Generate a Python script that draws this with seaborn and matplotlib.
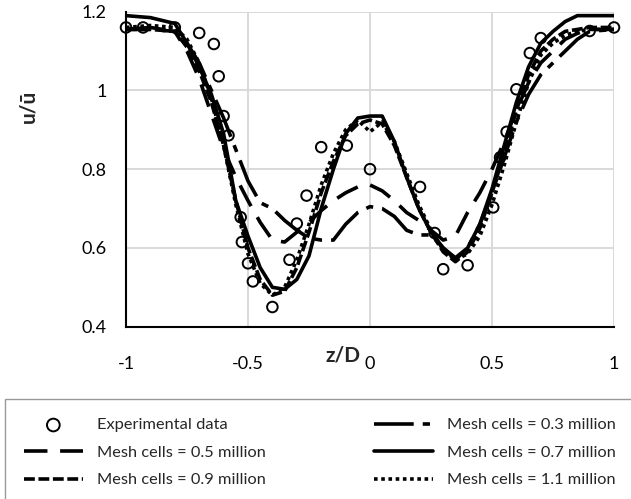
import matplotlib
matplotlib.use("Agg")
import matplotlib.pyplot as plt
import seaborn as sns

# Measured velocity profile
z_exp = [-1.0, -0.93, -0.80, -0.70, -0.64, -0.62, -0.60, -0.58, -0.53, -0.525,
         -0.50, -0.48, -0.40, -0.33, -0.30, -0.26, -0.20, -0.095, 0.0, 0.205,
         0.265, 0.30, 0.40, 0.505, 0.533, 0.56, 0.60, 0.655, 0.70, 0.90, 1.0]
u_exp = [1.16, 1.16, 1.16, 1.146, 1.118, 1.036, 0.935, 0.886, 0.678, 0.615,
         0.561, 0.515, 0.45, 0.57, 0.662, 0.733, 0.856, 0.86, 0.80, 0.755,
         0.638, 0.546, 0.556, 0.703, 0.83, 0.895, 1.003, 1.095, 1.133, 1.151, 1.16]

# Simulated profiles for the mesh-independence study
z_sim = [-1.0, -0.9, -0.8, -0.75, -0.7, -0.65, -0.6, -0.55, -0.5, -0.45,
         -0.4, -0.35, -0.3, -0.25, -0.2, -0.15, -0.1, -0.05, 0.0, 0.05,
         0.1, 0.15, 0.2, 0.25, 0.3, 0.35, 0.4, 0.45, 0.5, 0.55,
         0.6, 0.65, 0.7, 0.75, 0.8, 0.85, 0.9, 1.0]
u_03 = [1.155, 1.16, 1.15, 1.12, 1.07, 1.00, 0.93, 0.85, 0.77, 0.715,
        0.70, 0.67, 0.645, 0.625, 0.62, 0.62, 0.66, 0.69, 0.705, 0.70,
        0.68, 0.645, 0.633, 0.633, 0.60, 0.57, 0.60, 0.66, 0.74, 0.83,
        0.92, 0.99, 1.04, 1.07, 1.10, 1.13, 1.15, 1.155]
u_05 = [1.155, 1.155, 1.15, 1.10, 1.03, 0.94, 0.85, 0.78, 0.72, 0.665,
        0.62, 0.615, 0.64, 0.665, 0.695, 0.72, 0.74, 0.755, 0.76, 0.745,
        0.72, 0.69, 0.67, 0.645, 0.62, 0.63, 0.69, 0.74, 0.80, 0.87,
        0.95, 1.02, 1.07, 1.10, 1.13, 1.145, 1.155, 1.155]
u_07 = [1.19, 1.185, 1.17, 1.12, 1.06, 0.99, 0.89, 0.72, 0.63, 0.55,
        0.50, 0.495, 0.52, 0.58, 0.70, 0.80, 0.89, 0.93, 0.935, 0.935,
        0.87, 0.78, 0.70, 0.64, 0.60, 0.575, 0.60, 0.66, 0.75, 0.86,
        0.97, 1.06, 1.12, 1.15, 1.175, 1.19, 1.19, 1.19]
u_09 = [1.155, 1.155, 1.15, 1.11, 1.05, 0.97, 0.86, 0.72, 0.60, 0.52,
        0.48, 0.49, 0.55, 0.64, 0.74, 0.82, 0.885, 0.915, 0.925, 0.915,
        0.86, 0.78, 0.70, 0.64, 0.59, 0.565, 0.59, 0.65, 0.74, 0.84,
        0.95, 1.04, 1.10, 1.13, 1.15, 1.155, 1.16, 1.16]
u_11 = [1.16, 1.165, 1.16, 1.13, 1.07, 0.98, 0.86, 0.71, 0.585, 0.51,
        0.48, 0.50, 0.57, 0.66, 0.76, 0.84, 0.90, 0.925, 0.895, 0.92,
        0.87, 0.79, 0.71, 0.645, 0.595, 0.57, 0.585, 0.63, 0.71, 0.81,
        0.92, 1.02, 1.09, 1.12, 1.14, 1.15, 1.155, 1.155]

x_ticks = [-1, -0.5, 0, 0.5, 1]
x_tick_labels = ["-1", "-0.5", "0", "0.5", "1"]
y_ticks = [0.4, 0.6, 0.8, 1.0, 1.2]
y_tick_labels = ["0.4", "0.6", "0.8", "1", "1.2"]

sns.set_theme(style="white")
plt.rcParams["font.family"] = ["Lato", "DejaVu Sans"]

fig = plt.figure(figsize=(6.31, 4.99), dpi=100)
ax = fig.add_axes([126 / 631, 1 - 326.7 / 499, 488 / 631, 315 / 499])

lw = 2.6
series = [
    ("Mesh cells = 0.3 million", u_03, (0, (11, 2.5, 2, 2.5))),
    ("Mesh cells = 0.5 million", u_05, (0, (6.5, 3.5))),
    ("Mesh cells = 0.7 million", u_07, "-"),
    ("Mesh cells = 0.9 million", u_09, (0, (3, 1))),
    ("Mesh cells = 1.1 million", u_11, (0, (1, 1))),
]
for label, u, ls in series:
    sns.lineplot(x=z_sim, y=u, color="black", linewidth=lw, linestyle=ls,
                 label=label, ax=ax, errorbar=None, sort=False,
                 dash_capstyle="butt", solid_joinstyle="round")

sns.scatterplot(x=z_exp, y=u_exp, marker="o", s=58, facecolor="none",
                edgecolor="black", linewidth=1.4, label="Experimental data",
                ax=ax, clip_on=False, zorder=5)

ax.set_xlim(-1, 1)
ax.set_ylim(0.4, 1.2)
ax.set_xticks(x_ticks)
ax.set_xticklabels(x_tick_labels)
ax.set_yticks(y_ticks)
ax.set_yticklabels(y_tick_labels)
ax.grid(True, color="#d9d9d9", linewidth=1.4)
ax.set_axisbelow(True)
for side in ("top", "right"):
    ax.spines[side].set_visible(False)
for side in ("left", "bottom"):
    ax.spines[side].set_color("black")
    ax.spines[side].set_linewidth(1.5)
ax.tick_params(axis="both", direction="out", length=4, width=1.5,
               color="black", labelsize=13, labelcolor="black")
ax.tick_params(axis="x", pad=17)
ax.tick_params(axis="y", pad=10)
ax.set_xlabel("")
ax.set_ylabel("")
ax.get_legend().remove()

fig.text(361 / 631, 1 - 356 / 499, "z/D", ha="right", va="center",
         fontsize=15, fontweight="bold")
fig.text(28 / 631, 1 - 106 / 499, "u/ū", ha="center", va="center",
         rotation=90, fontsize=15, fontweight="bold")

handles, labels = ax.get_legend_handles_labels()
lookup = dict(zip(labels, handles))
order = ["Experimental data", "Mesh cells = 0.5 million", "Mesh cells = 0.9 million",
         "Mesh cells = 0.3 million", "Mesh cells = 0.7 million", "Mesh cells = 1.1 million"]
leg = fig.legend([lookup[k] for k in order], order, ncol=2,
                 loc="upper left", bbox_to_anchor=(5 / 631, 1 - 399 / 499),
                 frameon=True, fancybox=False, edgecolor="#808080",
                 fontsize=11.8, handlelength=3.6, handletextpad=0.85,
                 columnspacing=6.6, labelspacing=0.8, borderpad=1.15,
                 markerscale=1.2, borderaxespad=0)
leg.get_frame().set_linewidth(1.0)

fig.savefig("out.png", dpi=100)
